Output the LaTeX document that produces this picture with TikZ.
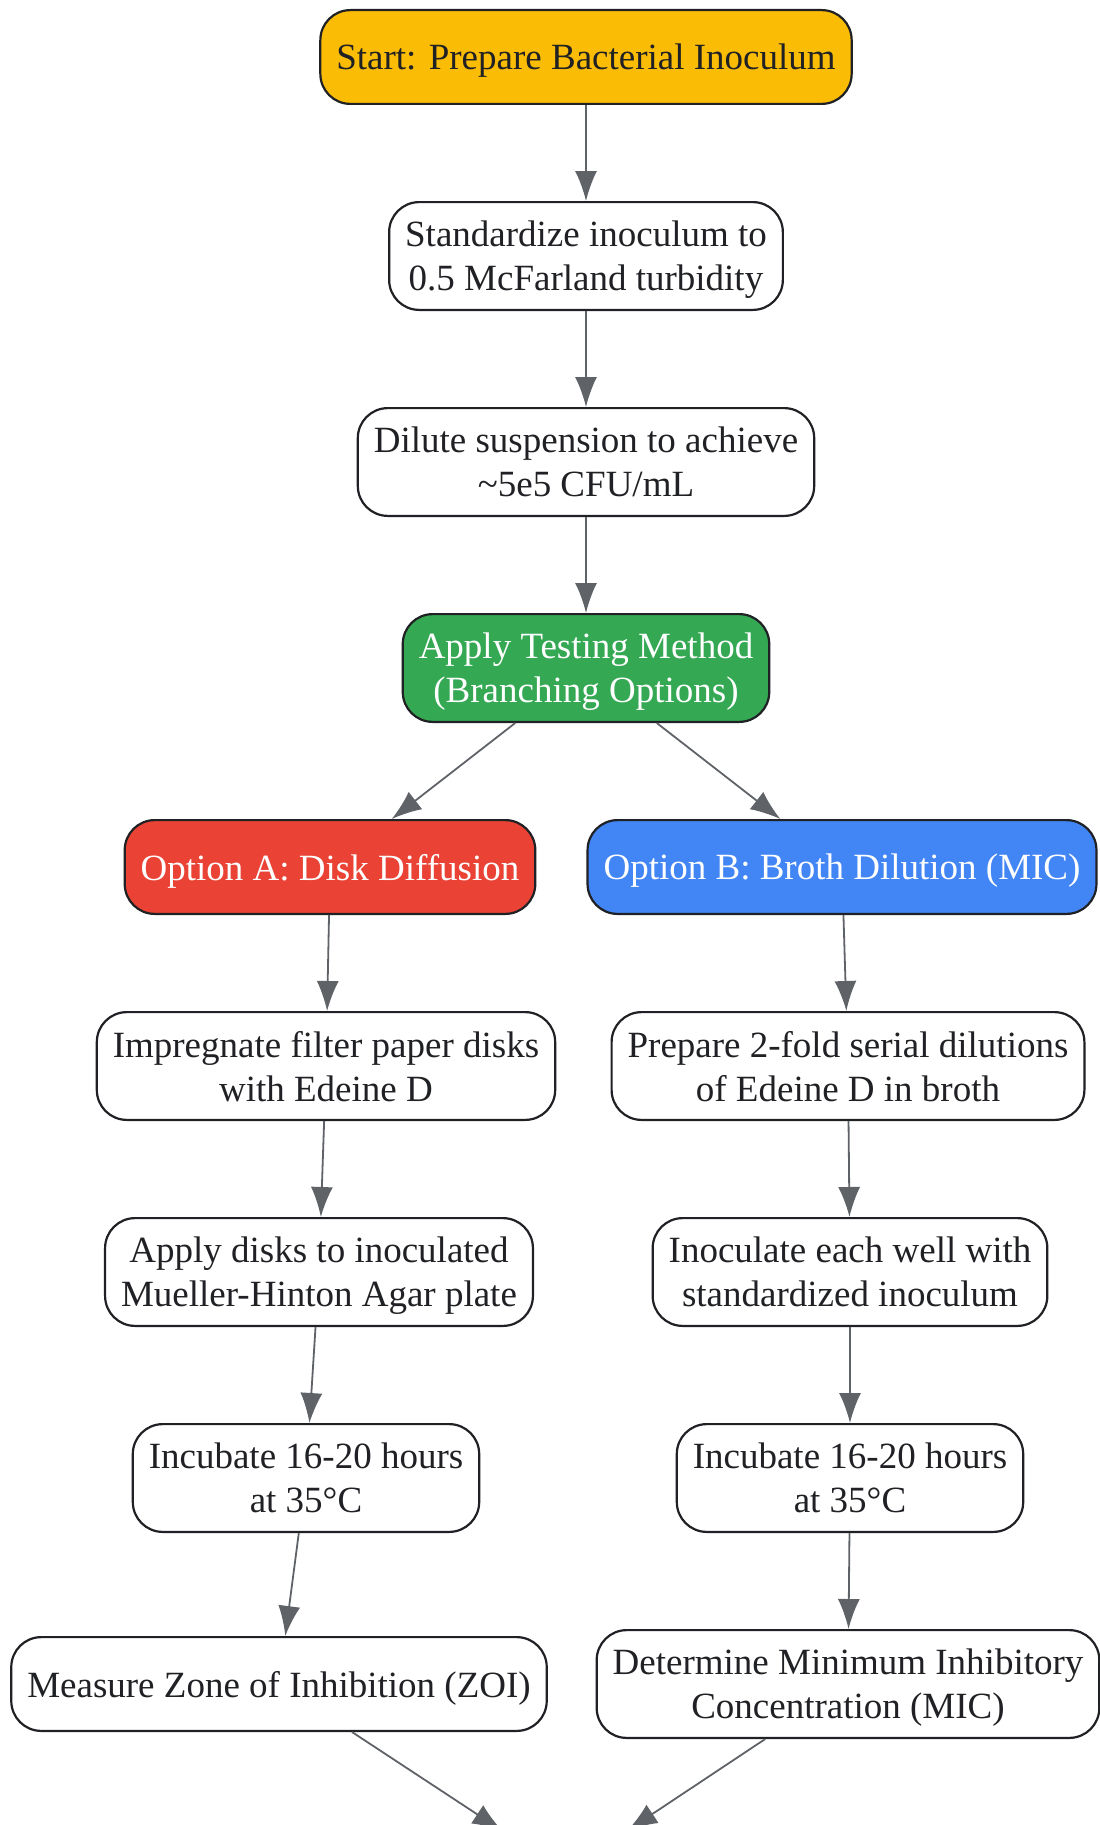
\documentclass[tikz,border=0pt]{standalone}
\usepackage{fontspec}
\setmainfont{Liberation Serif}
\usetikzlibrary{arrows.meta}

\definecolor{startyellow}{HTML}{FBBC05}
\definecolor{applygreen}{HTML}{34A853}
\definecolor{diskred}{HTML}{EA4335}
\definecolor{brothblue}{HTML}{4285F4}
\definecolor{arrowgray}{HTML}{5F6368}
\definecolor{boxline}{HTML}{202124}
\definecolor{textdark}{HTML}{202124}

\begin{document}
\begin{tikzpicture}[x=1pt, y=1pt,
                        level distance=48pt,
                        sibling distance=256pt,
                        growth parent anchor=south,
                        edge from parent/.style={draw=arrowgray, line width=0.9pt, -{Latex[length=15pt, width=11pt]}},
                        every node/.style={font=\fontsize{18.5}{22}\selectfont, align=center, anchor=north},
                        stepbox/.style={draw=boxline, line width=1.1pt, rounded corners=15pt, fill=white, text=textdark,
                                        inner xsep=8pt, inner ysep=4pt, minimum height=46.9pt, text depth=-2.5pt},
                        twoline/.style={minimum height=53.9pt},
                        flowarrow/.style={draw=arrowgray, line width=0.9pt, -{Latex[length=15pt, width=11pt]}}]

        \useasboundingbox (0,0) rectangle (549.5,-912.5);

        % Root node
        \node[stepbox, fill=startyellow] (start) at (293,-4.5) {Start: Prepare Bacterial Inoculum}
            child {node[stepbox, twoline] (standardize) {Standardize inoculum to\\0.5 McFarland turbidity}
            child {node[stepbox, twoline] (dilute) {Dilute suspension to achieve\\\textasciitilde5e5 CFU/mL}
            child {node[stepbox, twoline, fill=applygreen, text=white] (apply) {Apply Testing Method\\(Branching Options)}
                % Option A branch
                child {node[stepbox, fill=diskred, text=white] (optA) {Option A: Disk Diffusion}
                    child[xshift=-2pt] {node[stepbox, twoline] (impregnate) {Impregnate filter paper disks\\with Edeine D}
                    child[xshift=-3.5pt] {node[stepbox, twoline] (applyDisks) {Apply disks to inoculated\\Mueller-Hinton Agar plate}
                    child[xshift=-6.5pt] {node[stepbox, twoline] (incubateA) {Incubate 16-20 hours\\at 35°C}
                    child[xshift=-13.5pt] {node[stepbox, yshift=-3.5pt] (measure) {Measure Zone of Inhibition (ZOI)}}}}}}
                % Option B branch
                child {node[stepbox, fill=brothblue, text=white] (optB) {Option B: Broth Dilution (MIC)}
                    child[xshift=3pt] {node[stepbox, twoline] (prepare) {Prepare 2-fold serial dilutions\\of Edeine D in broth}
                    child[xshift=1pt] {node[stepbox, twoline] (inoculate) {Inoculate each well with\\standardized inoculum}
                    child {node[stepbox, twoline] (incubateB) {Incubate 16-20 hours\\at 35°C}
                    child[xshift=-1pt] {node[stepbox, twoline] (determine) {Determine Minimum Inhibitory\\Concentration (MIC)}}}}}}
            }}};

        % Both results lead below the picture
        \coordinate (nextStep) at (282.5,-936);
        \draw[flowarrow, shorten >=37.5pt] (measure) -- (nextStep);
        \draw[flowarrow, shorten >=37.5pt] (determine) -- (nextStep);

    \end{tikzpicture}
\end{document}
